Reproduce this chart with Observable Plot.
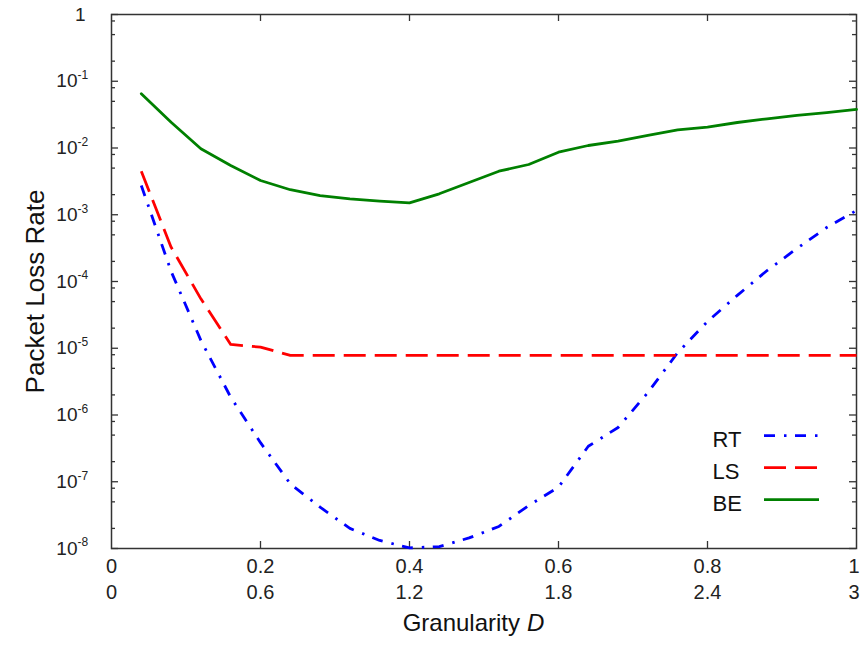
<!DOCTYPE html>
<html><head><meta charset="utf-8">
<script src="https://cdn.jsdelivr.net/npm/d3@7"></script>
<script src="https://cdn.jsdelivr.net/npm/@observablehq/plot@0.6"></script>
<style>body{margin:0;background:#fff;font-family:"Liberation Sans",Arial,sans-serif}</style>
</head><body><div id="chart"></div>
<script>
// x positions (fraction of range); D = 3 * x
const xs = [0.04,0.08,0.12,0.16,0.20,0.24,0.28,0.32,0.36,0.40,0.44,0.48,0.52,0.56,0.60,0.64,0.68,0.72,0.76,0.80,0.84,0.88,0.92,0.96,1.00];
const RT = [2.74e-3,1.42e-4,1.31e-5,1.85e-6,3.85e-7,9.3e-8,4.16e-8,2.0e-8,1.32e-8,1.02e-8,1.07e-8,1.44e-8,2.14e-8,4.4e-8,8.3e-8,3.4e-7,6.5e-7,2.17e-6,8.6e-6,2.52e-5,6.2e-5,1.46e-4,3.12e-4,6.44e-4,1.16e-3];
const LS = [4.49e-3,3.27e-4,5.5e-5,1.14e-5,1.04e-5,7.8e-6,7.8e-6,7.8e-6,7.8e-6,7.8e-6,7.8e-6,7.8e-6,7.8e-6,7.8e-6,7.8e-6,7.8e-6,7.8e-6,7.8e-6,7.8e-6,7.8e-6,7.8e-6,7.8e-6,7.8e-6,7.8e-6,7.8e-6];
const BE = [0.0649,0.0243,0.00973,0.00547,0.00326,0.00237,0.00194,0.00173,0.00160,0.00151,0.00206,0.00304,0.00449,0.00566,0.00865,0.0109,0.0127,0.0154,0.0187,0.0205,0.0241,0.0274,0.0309,0.0340,0.0378];

const seriesNames = ["RT","LS","BE"];
const seriesColors = ["#0000ff","#ff0000","#008000"];
const seriesDash = ["11,9,2.5,8.5","22,9",null];
const legendY = [4.9e-7,1.63e-7,5.4e-8];

const xTicks = [0,0.2,0.4,0.6,0.8,1];
const xTickLabels1 = ["0","0.2","0.4","0.6","0.8","1"];
const xTickLabels2 = ["0","0.6","1.2","1.8","2.4","3"];
const yMajor = [1,1e-1,1e-2,1e-3,1e-4,1e-5,1e-6,1e-7,1e-8];
const yExpVals = [1e-1,1e-2,1e-3,1e-4,1e-5,1e-6,1e-7,1e-8];
const yExpLabels = ["-1","-2","-3","-4","-5","-6","-7","-8"];
const yMinor = [];
for (let e = 0; e > -8; e--) for (const m of [0.8,0.5,0.2]) yMinor.push(m * Math.pow(10, e));

const W = 860, H = 648, mL = 111, mR = 4, mT = 14, mB = 100;
const pw = W - mL - mR, ph = H - mT - mB;
const font = "Liberation Sans, Arial, sans-serif";
const axisColor = "#333";

const rows = (arr, name) => xs.map((x, i) => ({x, y: arr[i], s: name}));
const nX = xTicks.length;

const marks = [
  Plot.frame({stroke: axisColor, strokeWidth: 1.5}),
  // y ticks left & right (inward)
  Plot.tickY(yMajor, {y: d => d, insetRight: pw - 7, stroke: axisColor, strokeWidth: 1.3}),
  Plot.tickY(yMajor, {y: d => d, insetLeft: pw - 7, stroke: axisColor, strokeWidth: 1.3}),
  Plot.tickY(yMinor, {y: d => d, insetRight: pw - 4, stroke: axisColor, strokeWidth: 1.3}),
  Plot.tickY(yMinor, {y: d => d, insetLeft: pw - 4, stroke: axisColor, strokeWidth: 1.3}),
  // x ticks bottom & top (inward)
  Plot.tickX(xTicks.slice(1, -1), {x: d => d, insetTop: ph - 7, stroke: axisColor, strokeWidth: 1.3}),
  Plot.tickX(xTicks.slice(1, -1), {x: d => d, insetBottom: ph - 7, stroke: axisColor, strokeWidth: 1.3}),
  // data lines
  Plot.line(rows(RT, "RT"), {x: "x", y: "y", stroke: seriesColors[0], strokeWidth: 2.8, strokeDasharray: seriesDash[0], strokeLinecap: "butt"}),
  Plot.line(rows(LS, "LS"), {x: "x", y: "y", stroke: seriesColors[1], strokeWidth: 2.8, strokeDasharray: seriesDash[1], strokeLinecap: "butt"}),
  Plot.line(rows(BE, "BE"), {x: "x", y: "y", stroke: seriesColors[2], strokeWidth: 2.8}),
  // y tick labels
  Plot.text([1], {y: d => d, text: () => "1", frameAnchor: "left", textAnchor: "end", dx: -26, fontSize: 19, fill: "#222", fontFamily: font}),
  Plot.text(yExpVals, {y: d => d, text: () => "10", frameAnchor: "left", textAnchor: "end", dx: -34, fontSize: 19, fill: "#222", fontFamily: font}),
  Plot.text(yExpVals, {y: d => d, text: (d, i) => yExpLabels[i], frameAnchor: "left", textAnchor: "start", dx: -34, dy: -6, fontSize: 12, fill: "#222", fontFamily: font}),
  // x tick labels (two rows); last label kept inside the page
  Plot.text(xTicks.slice(0, -1), {x: d => d, text: (d, i) => xTickLabels1[i], frameAnchor: "bottom", dy: 24, fontSize: 20, fill: "#222", fontFamily: font}),
  Plot.text(xTicks.slice(0, -1), {x: d => d, text: (d, i) => xTickLabels2[i], frameAnchor: "bottom", dy: 50, fontSize: 20, fill: "#222", fontFamily: font}),
  Plot.text(xTicks.slice(-1), {x: d => d, text: () => xTickLabels1[nX - 1], frameAnchor: "bottom", textAnchor: "end", dx: 3, dy: 24, fontSize: 20, fill: "#222", fontFamily: font}),
  Plot.text(xTicks.slice(-1), {x: d => d, text: () => xTickLabels2[nX - 1], frameAnchor: "bottom", textAnchor: "end", dx: 3, dy: 50, fontSize: 20, fill: "#222", fontFamily: font}),
  // axis titles
  Plot.text(["Granularity"], {frameAnchor: "bottom", textAnchor: "end", dx: 36, dy: 82, fontSize: 24, fill: "#111", fontFamily: font}),
  Plot.text(["D"], {frameAnchor: "bottom", textAnchor: "start", dx: 43, dy: 82, fontSize: 24, fontStyle: "italic", fill: "#111", fontFamily: font}),
  Plot.text(["Packet Loss Rate"], {frameAnchor: "left", textAnchor: "middle", rotate: -90, dx: -76, dy: 10, fontSize: 26, fill: "#111", fontFamily: font}),
  // legend
  Plot.text(seriesNames, {y: (d, i) => legendY[i], text: d => d, frameAnchor: "right", textAnchor: "start", dx: -144, dy: 4, fontSize: 22, fill: "#111", fontFamily: font}),
];
seriesNames.forEach((n, i) => {
  marks.push(Plot.ruleY([legendY[i]], {y: d => d, insetLeft: 653, insetRight: 37, stroke: seriesColors[i], strokeWidth: 2.8, strokeDasharray: seriesDash[i], strokeLinecap: "butt"}));
});

const chart = Plot.plot({
  width: W, height: H,
  marginLeft: mL, marginRight: mR, marginTop: mT, marginBottom: mB,
  style: {fontFamily: font, background: "#fff"},
  x: {domain: [0, 1], axis: null},
  y: {type: "log", domain: [1e-8, 1], axis: null},
  marks
});
document.getElementById("chart").appendChild(chart);
</script>
</body></html>
